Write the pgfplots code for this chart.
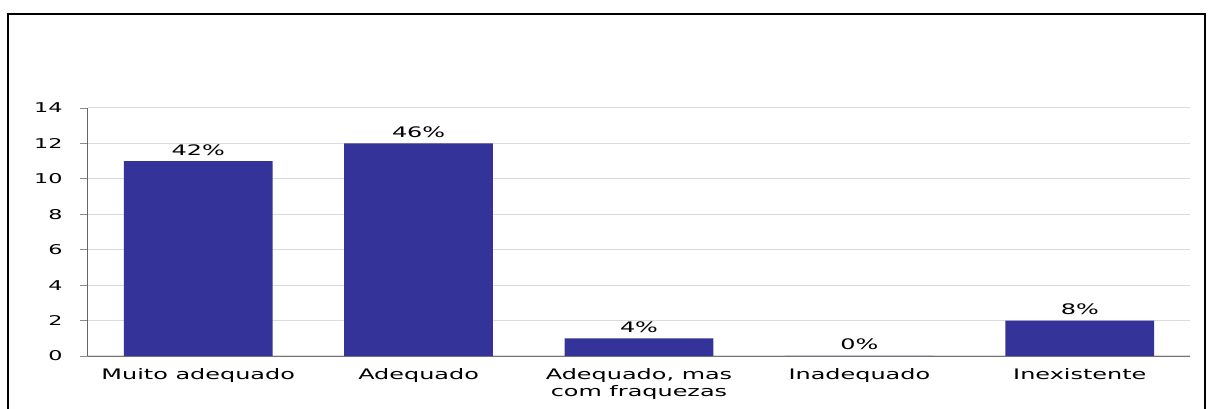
\documentclass[border=0pt]{standalone}
\usepackage{fontspec}
\setmainfont{DejaVu Sans}
\newfontfamily\vf[FakeStretch=1.65]{DejaVu Sans}
\usepackage{pgfplots}
\pgfplotsset{compat=1.18}
\definecolor{barblue}{HTML}{333399}
\begin{document}
\begin{tikzpicture}[x=1pt,y=1pt]
\useasboundingbox (0,0) rectangle (1208,409);
\begin{scope}
\clip (0,0) rectangle (1208,409);
\draw[line width=2.5pt,black] (8,-10) -- (8,395) -- (1205,395) -- (1205,-10);
\end{scope}
\begin{axis}[
  at={(88pt,53pt)}, anchor=south west,
  scale only axis, width=1102pt, height=248pt,
  xmin=-0.5, xmax=4.5, ymin=0, ymax=14,
  ytick={0,2,...,14},
  xtick={0,1,2,3,4},
  xticklabels={Muito adequado, Adequado, {Adequado, mas\\com fraquezas}, Inadequado, Inexistente},
  major x tick style={draw=none},
  extra x ticks={-0.5,0.5,1.5,2.5,3.5,4.5},
  extra x tick labels={},
  extra x tick style={major tick length=5pt, tick style={draw=gray!80!black, line width=0.8pt}, grid=none},
  tick align=outside,
  major tick length=8pt,
  ymajorgrids,
  grid style={draw=black!14, line width=1pt},
  axis x line*=bottom, axis y line*=left,
  x axis line style={draw=gray!90!black, line width=0.9pt, -},
  y axis line style={draw=black!60, line width=1pt, -},
  ytick style={draw=black!45, line width=0.8pt},
  /pgf/number format/assume math mode=true,
  tick label style={font=\vf\fontsize{14.5}{17}\selectfont, text=black},
  yticklabel style={font=\vf\fontsize{13.5}{17}\selectfont, xshift=-14pt},
  xticklabel style={align=center, yshift=-1pt},
  ybar, bar width=0.675,
  point meta=explicit symbolic,
  nodes near coords,
  nodes near coords style={font=\vf\fontsize{14.5}{17}\selectfont, anchor=base, yshift=6pt},
]
\addplot[fill=barblue, draw=none] coordinates {
  (0,11) [42\%]
  (1,12) [46\%]
  (2,1) [4\%]
  (3,0) [0\%]
  (4,2) [8\%]
};
\end{axis}
\end{tikzpicture}
\end{document}
